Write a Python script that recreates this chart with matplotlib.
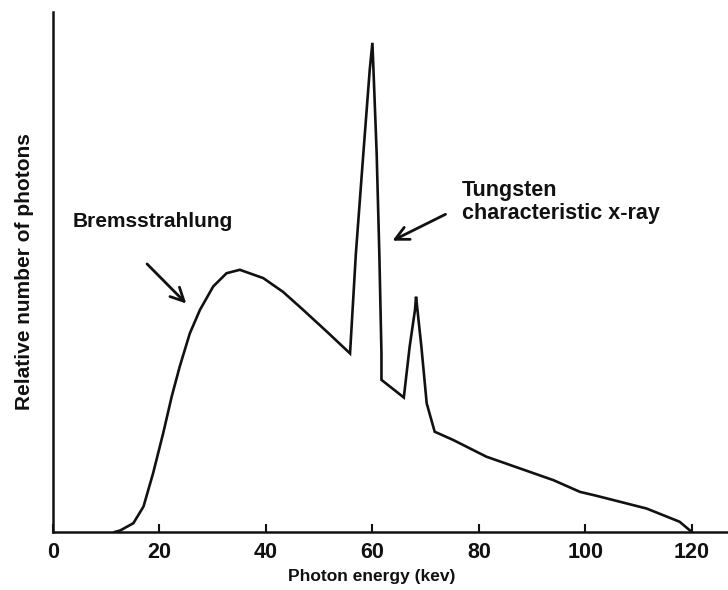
import matplotlib
matplotlib.use("Agg")
import matplotlib.pyplot as plt
from matplotlib import font_manager

energy_kev = [11.6, 12.6, 15.1, 17.0, 18.8, 20.7, 22.3, 23.8, 25.7, 27.6, 30.1, 32.6, 35.1,
              39.5, 43.2, 47.0, 51.4, 55.8, 56.9, 58.3, 59.5, 60.0, 60.2, 60.8, 61.3, 61.7,
              61.7, 65.9, 67.0, 68.0, 68.2, 69.2, 70.2, 71.7, 75.2, 81.4, 87.7, 94.0, 99.0,
              102.1, 111.5, 117.7, 120.0]
rel_photons = [0.0, 0.3, 1.8, 5.2, 12.0, 20.2, 27.7, 33.8, 40.6, 45.4, 50.2, 52.9, 53.6,
               51.9, 49.1, 45.4, 41.0, 36.5, 57.0, 77.4, 94.5, 100.0, 94.5, 77.4, 57.0, 36.5,
               31.1, 27.5, 37.9, 45.4, 48.1, 37.9, 26.3, 20.5, 18.8, 15.4, 13.0, 10.6, 8.2,
               7.4, 4.8, 2.1, 0.0]
x_ticks = [0, 20, 40, 60, 80, 100, 120]
x_tick_labels = ["0", "20", "40", "60", "80", "100", "120"]

names = {f.name for f in font_manager.fontManager.ttflist}
tick_family = "Liberation Sans Narrow" if "Liberation Sans Narrow" in names else "Liberation Sans"

fig = plt.figure(figsize=(7.28, 5.9), dpi=100)
ax = fig.add_axes([53 / 728, 58 / 590, 675 / 728, 520 / 590])
ax.plot(energy_kev, rel_photons, color="#111111", lw=1.9, solid_joinstyle="miter")
ax.set_xlim(0, 126.8)
ax.set_ylim(0, 106.3)

for s in ["top", "right"]:
    ax.spines[s].set_visible(False)
for s in ["left", "bottom"]:
    ax.spines[s].set_linewidth(1.8)
    ax.spines[s].set_color("#111111")

ax.set_yticks([])
ax.set_xticks(x_ticks)
ax.set_xticklabels(x_tick_labels, family=tick_family, fontweight="bold", fontsize=15.5)
ax.tick_params(axis="x", direction="in", length=6, width=1.5, pad=7, colors="#111111")

ax.set_xlabel("Photon energy (kev)", family="Liberation Sans", fontweight="bold",
              fontsize=12.5, color="#111111")
ax.xaxis.set_label_coords((372 - 53) / 675, -0.071)
ax.set_ylabel("Relative number of photons", family="Liberation Sans", fontweight="bold",
              fontsize=15, labelpad=14, color="#111111")

ax.text(3.7, 63.4, "Bremsstrahlung", family="Liberation Sans", fontweight="bold",
        fontsize=15, ha="left", va="center", color="#111111")
ax.text(76.8, 72.0, "Tungsten\ncharacteristic x-ray", family="Liberation Sans",
        fontweight="bold", fontsize=15.5, ha="left", va="top", linespacing=1.15,
        color="#111111")

ax.annotate("", xy=(25.4, 46.3), xytext=(17.3, 55.2),
            arrowprops=dict(arrowstyle="->", lw=2, color="#111111", mutation_scale=24))
ax.annotate("", xy=(63.3, 59.3), xytext=(74.2, 65.2),
            arrowprops=dict(arrowstyle="->", lw=2, color="#111111", mutation_scale=24))

fig.savefig("out.png", dpi=100)
